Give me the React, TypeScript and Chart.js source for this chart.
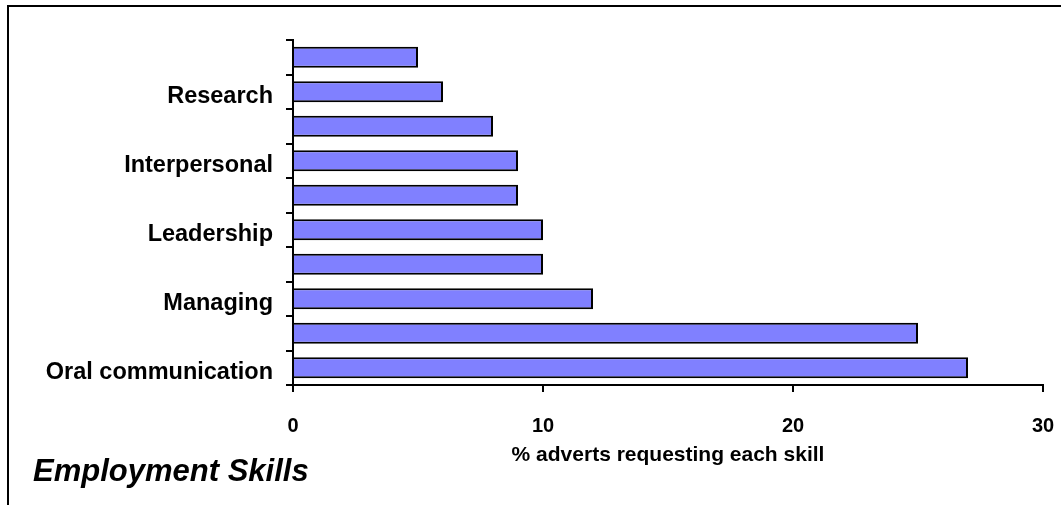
import React, { useEffect, useRef } from "react";
import { Chart, registerables } from "chart.js";

Chart.register(...registerables);

// Categories listed top to bottom (as drawn)
const categories: string[] = [
  "",
  "Research",
  "",
  "Interpersonal",
  "",
  "Leadership",
  "",
  "Managing",
  "",
  "Oral communication",
];
const percentValues: number[] = [5, 6, 8, 9, 9, 10, 10, 12, 25, 27];
const xTickValues: number[] = [0, 10, 20, 30];
const chartTitle = "Employment Skills";
const xAxisTitle = "% adverts requesting each skill";

const FONT = "'Liberation Sans', Arial, Helvetica, sans-serif";

const framePlugin = {
  id: "frame",
  beforeDraw(chart: any) {
    const { ctx, width, height } = chart;
    ctx.save();
    ctx.fillStyle = "#ffffff";
    ctx.fillRect(0, 0, width, height);
    ctx.strokeStyle = "#000000";
    ctx.lineWidth = 2;
    ctx.beginPath();
    ctx.moveTo(8, height);
    ctx.lineTo(8, 6);
    ctx.lineTo(width, 6);
    ctx.stroke();
    ctx.restore();
  },
};

export default function App() {
  const canvasRef = useRef<HTMLCanvasElement | null>(null);

  useEffect(() => {
    if (!canvasRef.current) return;
    const chart = new Chart(canvasRef.current, {
      type: "bar",
      data: {
        labels: categories,
        datasets: [
          {
            data: percentValues,
            backgroundColor: "#8080FF",
            borderColor: "#000000",
            borderWidth: 2,
            barPercentage: 0.61,
            categoryPercentage: 1,
          },
        ],
      },
      options: {
        indexAxis: "y",
        responsive: false,
        animation: false,
        layout: { padding: { top: 40, left: 33, right: 18, bottom: 20 } },
        plugins: {
          legend: { display: false },
          tooltip: { enabled: false },
          title: {
            display: true,
            text: chartTitle,
            position: "bottom",
            align: "start",
            color: "#000",
            font: { family: FONT, size: 31, weight: "bold", style: "italic", lineHeight: 0.8 },
            padding: 0,
          },
        },
        scales: {
          x: {
            type: "linear",
            min: 0,
            max: 30,
            afterBuildTicks: (scale: any) => {
              scale.ticks = xTickValues.map((v) => ({ value: v }));
            },
            afterFit: (scale: any) => {
              scale.height = 75.2;
              scale.paddingLeft = 0;
              scale.paddingRight = 0;
            },
            grid: {
              drawOnChartArea: false,
              drawTicks: true,
              tickLength: 7,
              color: "#000",
              lineWidth: 2,
            },
            border: { display: true, color: "#000", width: 2 },
            ticks: {
              color: "#000",
              padding: 22,
              font: { family: FONT, size: 20, weight: "bold" },
            },
            title: {
              display: true,
              text: xAxisTitle,
              color: "#000",
              font: { family: FONT, size: 21, weight: "bold", lineHeight: 0.5 },
              padding: { top: 0, bottom: 0 },
            },
          },
          y: {
            type: "category",
            afterFit: (scale: any) => {
              scale.width = 260;
            },
            grid: {
              offset: true,
              drawOnChartArea: false,
              drawTicks: true,
              tickLength: 7,
              color: "#000",
              lineWidth: 2,
            },
            border: { display: true, color: "#000", width: 2 },
            ticks: {
              autoSkip: false,
              color: "#000",
              padding: 13,
              labelOffset: 5,
              font: { family: FONT, size: 23.5, weight: "bold" },
            },
          },
        },
      },
      plugins: [framePlugin],
    } as any);
    return () => chart.destroy();
  }, []);

  return (
    <div style={{ position: "absolute", left: 0, top: 0, width: 1061, height: 505 }}>
      <canvas ref={canvasRef} width={1061} height={505} style={{ display: "block" }} />
    </div>
  );
}
